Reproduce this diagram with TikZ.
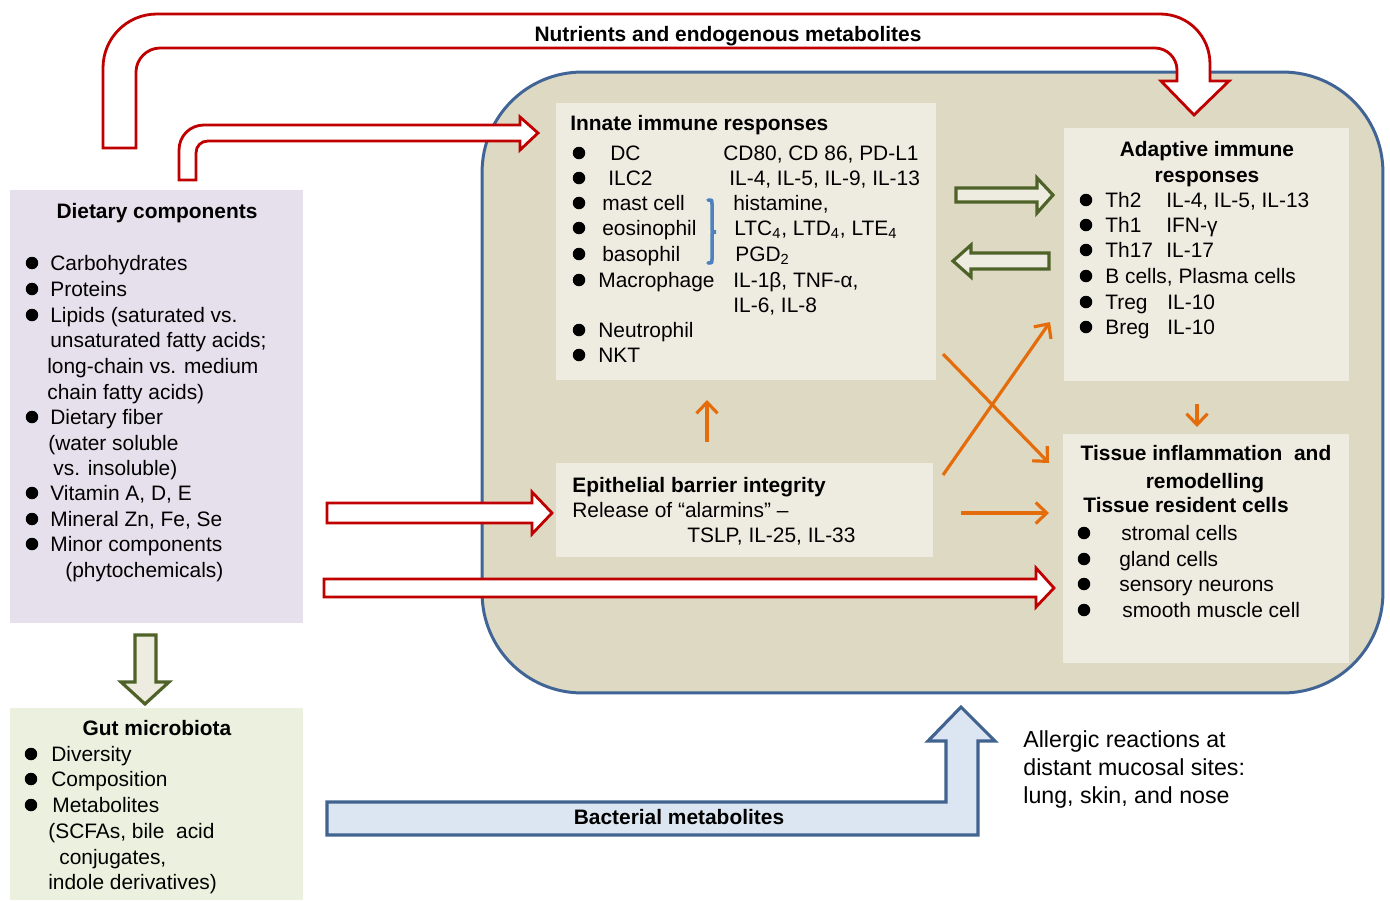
\documentclass[tikz,border=0pt]{standalone}
\usepackage{fontspec}
\setmainfont{Liberation Sans}
\usetikzlibrary{arrows.meta,fit}
\definecolor{mainbg}{RGB}{221,217,195}
\definecolor{mainbd}{RGB}{65,100,150}
\definecolor{lightbox}{RGB}{238,236,225}
\definecolor{lav}{RGB}{229,224,236}
\definecolor{gutg}{RGB}{235,241,222}
\definecolor{darkred}{RGB}{192,0,0}
\definecolor{olive}{RGB}{79,98,40}
\definecolor{orng}{RGB}{228,108,10}
\definecolor{lblue}{RGB}{220,230,242}
\definecolor{bblue}{RGB}{65,99,143}
\definecolor{bracec}{RGB}{79,129,189}
\newcommand\fs{\fontsize{11.9pt}{14.5pt}\selectfont}
\newcommand\fsl{\fontsize{13.2pt}{15.9pt}\selectfont}
\begin{document}
\begin{tikzpicture}[x=0.02cm,y=-0.02cm,
  tx/.style={anchor=west,inner sep=0pt,text height=0.30cm,text depth=0.08cm,font=\fs,yshift=-0.04cm},
  bt/.style={tx,font=\fs\bfseries},
  ct/.style={bt,anchor=center},
  lt/.style={anchor=west,inner sep=0pt,text height=0.33cm,text depth=0.09cm,font=\fsl,yshift=-0.04cm},
  panel/.style={inner sep=0pt,outer sep=0pt,draw=none},
  redarr/.style={draw=darkred,fill=white,line width=1.6pt},
  grnarr/.style={draw=olive,fill=lightbox,line width=1.8pt},
  bluarr/.style={draw=bblue,fill=lblue,line width=1.8pt},
  oarr/.style={draw=orng,line width=1.8pt,-{Straight Barb[length=0.22cm,width=0.42cm]}}]
\useasboundingbox (0,0) rectangle (1390,900);
\fill[white] (0,0) rectangle (1390,900);
% main container
\node[panel,fill=mainbg,draw=mainbd,line width=1.7pt,rounded corners=2cm,
  minimum width=18.02cm,minimum height=12.42cm] (main) at (932.5,382.5) {};
% panels
\node[panel,fill=lightbox,fit={(556,103)(936,380)}] (innate) {};
\node[panel,fill=lightbox,fit={(1064,128)(1349,381)}] (adaptive) {};
\node[panel,fill=lightbox,fit={(556,463)(933,557)}] (epith) {};
\node[panel,fill=lightbox,fit={(1063,434)(1349,663)}] (tissue) {};
\node[panel,fill=lav,fit={(10,190)(303,623)}] (diet) {};
\node[panel,fill=gutg,fit={(10,708)(303,900)}] (gut) {};
% big red arrow: nutrients
\draw[redarr] (103,148) -- (103,68) .. controls (103,38) and (127,14) .. (157,14)
  -- (1160,14) .. controls (1188,14) and (1210,36) .. (1210,64) -- (1210,81)
  -- (1229,81) -- (1194,115) -- (1161,81) -- (1177,81) -- (1177,70)
  .. controls (1177,58) and (1167,48) .. (1155,48) -- (160,48)
  .. controls (147,48) and (136,59) .. (136,72) -- (136,148) -- cycle;
\node[ct] (nutr) at (728,34) {Nutrients and endogenous metabolites};
% red arrow to innate
\draw[redarr] (179,180) -- (179,150) .. controls (179,136) and (190,125) .. (204,125)
  -- (520,125) -- (520,117) -- (538,133) -- (520,150) -- (520,141) -- (208,141)
  .. controls (201,141) and (196,146) .. (196,153) -- (196,180) -- cycle;
% red arrow to epithelial
\draw[redarr] (327,503) -- (532,503) -- (532,492) -- (552,513) -- (532,534) -- (532,523) -- (327,523) -- cycle;
% red arrow to tissue
\draw[redarr] (324,579) -- (1036,579) -- (1036,568) -- (1054,588) -- (1036,607) -- (1036,597) -- (324,597) -- cycle;
% blue arrow
\draw[bluarr] (327,802) -- (946,802) -- (946,741) -- (928,741) -- (961,707) -- (995,741)
  -- (978,741) -- (978,835) -- (327,835) -- cycle;
\node[ct] (bact) at (679,817) {Bacterial metabolites};
% green arrows
\draw[grnarr] (956,188) -- (1037,188) -- (1037,178) -- (1053,195) -- (1037,213) -- (1037,202) -- (956,202) -- cycle;
\draw[grnarr] (1049,253) -- (971,253) -- (971,245) -- (953,261) -- (971,277) -- (971,269) -- (1049,269) -- cycle;
\draw[grnarr] (135,635) -- (156,635) -- (156,682) -- (169,682) -- (145,704) -- (121,682) -- (135,682) -- cycle;
% orange arrows
\coordinate (o1s) at (707,442); \coordinate (o1e) at (707,400);
\coordinate (o2s) at (1197,404); \coordinate (o2e) at (1197,427);
\coordinate (o3s) at (961,513); \coordinate (o3e) at (1049,513);
\coordinate (o4s) at (943,475); \coordinate (o4e) at (1050,322);
\coordinate (o5s) at (943,354); \coordinate (o5e) at (1049,463);
\draw[oarr] (o1s) -- (o1e);
\draw[oarr] (o2s) -- (o2e);
\draw[oarr] (o3s) -- (o3e);
\draw[oarr] (o4s) -- (o4e);
\draw[oarr] (o5s) -- (o5e);
% brace
\draw[bracec,line width=2pt,line cap=round] (708,200) .. controls (712,200) .. (712,204) -- (712,228)
  .. controls (712,232) .. (716,232) .. controls (712,232) .. (712,236) -- (712,259)
  .. controls (712,263) .. (708,263);
% bullets
\foreach \y in {263,289,315,417,493,519,544} \fill (32,\y) circle[radius=0.125cm];
\foreach \y in {754,779,805} \fill (31,\y) circle[radius=0.125cm];
\foreach \y in {153,178,203,228,254,280,330,355} \fill (579,\y) circle[radius=0.125cm];
\foreach \y in {200,225,250,276,302,327} \fill (1086,\y) circle[radius=0.125cm];
\foreach \y in {533,559,584,610} \fill (1084,\y) circle[radius=0.125cm];
% dietary text
\node[ct] (dtitle) at (157,211) {Dietary components};
\foreach \x/\y/\txt [count=\i] in {50/263/Carbohydrates, 50/289/Proteins,
  50/315/{Lipids (saturated vs.}, 50/340/{unsaturated fatty acids;},
  47/366/{long-chain vs. medium}, 47/392/{chain fatty acids)},
  50/417/{Dietary fiber}, 48/443/{(water soluble}, 53/468/{vs. insoluble)},
  50/493/{Vitamin A, D, E}, 50/519/{Mineral Zn, Fe, Se},
  50/544/{Minor components}, 65/570/{(phytochemicals)}}
  \node[tx] (dl\i) at (\x,\y) {\txt};
% gut text
\node[ct] (gtitle) at (157,728) {Gut microbiota};
\foreach \x/\y/\txt [count=\i] in {51/754/Diversity, 51/779/Composition,
  52/805/Metabolites, 48/831/{(SCFAs, bile\ \ acid}, 59/857/{conjugates,},
  48/882/{indole derivatives)}}
  \node[tx] (gl\i) at (\x,\y) {\txt};
% innate text
\node[bt] (ititle) at (570,123) {Innate immune responses};
\foreach \x/\y/\txt [count=\i] in {610/153/DC, 723/153/{CD80, CD 86, PD-L1},
  608/178/ILC2, 729/178/{IL-4, IL-5, IL-9, IL-13},
  602/203/{mast cell}, 733/203/{histamine,},
  602/228/eosinophil, 734/228/{LTC\textsubscript{4}, LTD\textsubscript{4}, LTE\textsubscript{4}},
  602/254/basophil, 735/254/{PGD\textsubscript{2}},
  598/280/Macrophage, 733/280/{IL-1β, TNF-α,},
  733/305/{IL-6, IL-8}, 598/330/Neutrophil, 598/355/NKT}
  \node[tx] (il\i) at (\x,\y) {\txt};
% adaptive text
\node[ct] (atitle1) at (1207,149) {Adaptive immune};
\node[ct] (atitle2) at (1207,175) {responses};
\foreach \x/\y/\txt [count=\i] in {1105/200/Th2, 1166/200/{IL-4, IL-5, IL-13},
  1105/225/Th1, 1166/225/IFN-γ, 1105/250/Th17, 1166/250/IL-17,
  1105/276/{B cells, Plasma cells}, 1105/302/Treg, 1167/302/IL-10,
  1105/327/Breg, 1167/327/IL-10}
  \node[tx] (al\i) at (\x,\y) {\txt};
% tissue text
\node[ct] (ttitle1) at (1206,453) {Tissue inflammation\ \ and};
\node[ct] (ttitle2) at (1205,481) {remodelling};
\node[bt] (ttitle3) at (1083,505) {Tissue resident cells};
\foreach \x/\y/\txt [count=\i] in {1121/533/{stromal cells}, 1119/559/{gland cells},
  1119/584/{sensory neurons}, 1122/610/{smooth muscle cell}}
  \node[tx] (tl\i) at (\x,\y) {\txt};
% epithelial text
\node[bt] (etitle) at (572,485) {Epithelial barrier integrity};
\node[tx] (el1) at (572,510) {Release of “alarmins” –};
\node[tx] (el2) at (687,535) {TSLP, IL-25, IL-33};
% allergic text
\node[lt] (al1t) at (1023,739) {Allergic reactions at};
\node[lt] (al2t) at (1023,767) {distant mucosal sites:};
\node[lt] (al3t) at (1023,795) {lung, skin, and nose};
\end{tikzpicture}
\end{document}
